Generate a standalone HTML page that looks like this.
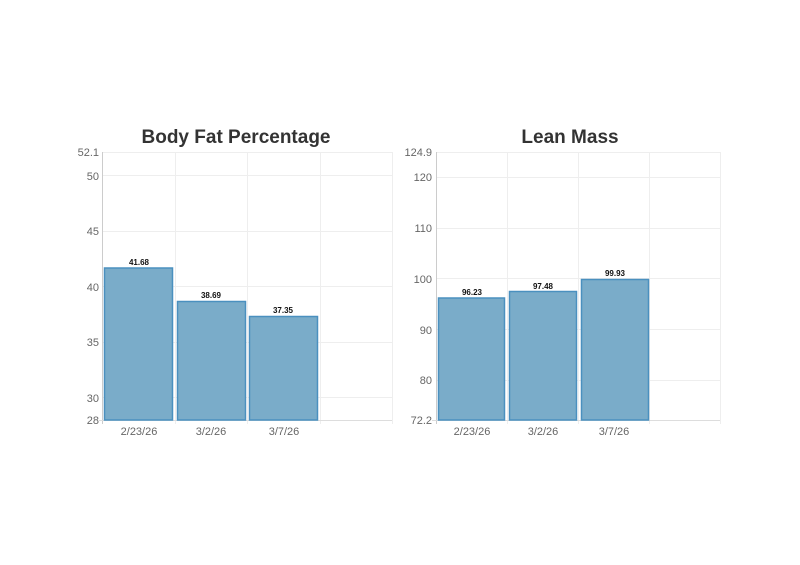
<!DOCTYPE html>
<html><head><meta charset="utf-8"><style>
html,body{margin:0;padding:0;background:#fff}
svg{display:block;font-family:"Liberation Sans",sans-serif}
</style></head><body>
<svg width="800" height="565" xmlns="http://www.w3.org/2000/svg">
<g>
<text x="236" y="143" text-anchor="middle" font-size="19" font-weight="bold" fill="#333">Body Fat Percentage</text>
<g stroke="#eee" stroke-width="1">
<line x1="103" y1="152.5" x2="392" y2="152.5"/>
<line x1="103" y1="175.5" x2="392" y2="175.5"/>
<line x1="103" y1="231.5" x2="392" y2="231.5"/>
<line x1="103" y1="286.5" x2="392" y2="286.5"/>
<line x1="103" y1="342.5" x2="392" y2="342.5"/>
<line x1="103" y1="397.5" x2="392" y2="397.5"/>
<line x1="175.5" y1="152" x2="175.5" y2="424"/>
<line x1="247.5" y1="152" x2="247.5" y2="424"/>
<line x1="320.5" y1="152" x2="320.5" y2="424"/>
<line x1="392.5" y1="152" x2="392.5" y2="424"/>
</g>
<line x1="102.5" y1="152" x2="102.5" y2="424" stroke="#ccc"/>
<line x1="99" y1="420.5" x2="392" y2="420.5" stroke="#ddd"/>
<g font-size="11" fill="#666" text-anchor="end">
<text x="99" y="156">52.1</text><text x="99" y="180">50</text><text x="99" y="235">45</text>
<text x="99" y="291">40</text><text x="99" y="346">35</text><text x="99" y="402">30</text><text x="99" y="424">28</text>
</g>
<g fill="#7aacc9" stroke="#4a90bf" stroke-width="1.5">
<rect x="104.5" y="268" width="68" height="152"/>
<rect x="177.5" y="301.5" width="68" height="118.5"/>
<rect x="249.5" y="316.5" width="68" height="103.5"/>
</g>
<g font-size="8" font-weight="bold" fill="#111" text-anchor="middle">
<text x="139" y="265">41.68</text><text x="211" y="298">38.69</text><text x="283" y="313">37.35</text>
</g>
<g font-size="11" fill="#666" text-anchor="middle">
<text x="139" y="435">2/23/26</text><text x="211" y="435">3/2/26</text><text x="284" y="435">3/7/26</text>
</g>
</g>
<g>
<text x="570" y="143" text-anchor="middle" font-size="19" font-weight="bold" fill="#333">Lean Mass</text>
<g stroke="#eee" stroke-width="1">
<line x1="436" y1="152.5" x2="720" y2="152.5"/>
<line x1="436" y1="177.5" x2="720" y2="177.5"/>
<line x1="436" y1="228.5" x2="720" y2="228.5"/>
<line x1="436" y1="278.5" x2="720" y2="278.5"/>
<line x1="436" y1="329.5" x2="720" y2="329.5"/>
<line x1="436" y1="380.5" x2="720" y2="380.5"/>
<line x1="507.5" y1="152" x2="507.5" y2="424"/>
<line x1="578.5" y1="152" x2="578.5" y2="424"/>
<line x1="649.5" y1="152" x2="649.5" y2="424"/>
<line x1="720.5" y1="152" x2="720.5" y2="424"/>
</g>
<line x1="436.5" y1="152" x2="436.5" y2="424" stroke="#ccc"/>
<line x1="432" y1="420.5" x2="720" y2="420.5" stroke="#ddd"/>
<g font-size="11" fill="#666" text-anchor="end">
<text x="432" y="156">124.9</text><text x="432" y="181">120</text><text x="432" y="232">110</text>
<text x="432" y="283">100</text><text x="432" y="334">90</text><text x="432" y="384">80</text><text x="432" y="424">72.2</text>
</g>
<g fill="#7aacc9" stroke="#4a90bf" stroke-width="1.5">
<rect x="438.5" y="298" width="66" height="122"/>
<rect x="509.5" y="291.5" width="67" height="128.5"/>
<rect x="581.5" y="279.5" width="67" height="140.5"/>
</g>
<g font-size="8" font-weight="bold" fill="#111" text-anchor="middle">
<text x="472" y="295">96.23</text><text x="543" y="289">97.48</text><text x="615" y="276">99.93</text>
</g>
<g font-size="11" fill="#666" text-anchor="middle">
<text x="472" y="435">2/23/26</text><text x="543" y="435">3/2/26</text><text x="614" y="435">3/7/26</text>
</g>
</g>
</svg>
</body></html>
